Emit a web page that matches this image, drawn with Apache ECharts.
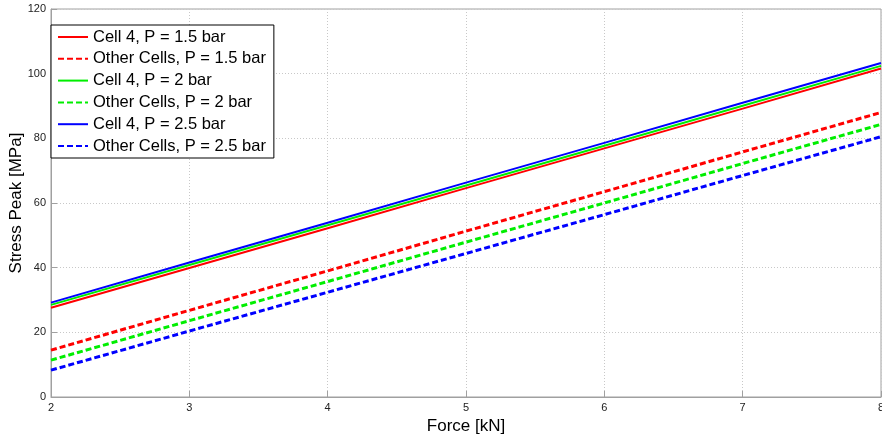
<!DOCTYPE html>
<html>
<head>
<meta charset="utf-8">
<script src="https://cdn.jsdelivr.net/npm/echarts@6/dist/echarts.min.js"></script>
<style>
  html, body { margin: 0; padding: 0; background: #fff; }
  #chart { width: 882px; height: 437px; }
</style>
</head>
<body>
<div id="chart"></div>
<script>
// Force values (kN)
const forceKN = [2, 3, 4, 5, 6, 7, 8];

// Peak stress (MPa) per configuration
const cell4P15 = [27.6, 39.9, 52.2, 64.6, 76.9, 89.2, 101.6];
const otherP15 = [14.5, 26.8, 39.0, 51.3, 63.5, 75.8, 88.0];
const cell4P2 = [28.5, 40.8, 53.1, 65.4, 77.7, 90.1, 102.4];
const otherP2 = [11.4, 23.6, 35.7, 47.9, 60.0, 72.2, 84.3];
const cell4P25 = [29.2, 41.6, 53.9, 66.3, 78.6, 91.0, 103.3];
const otherP25 = [8.3, 20.4, 32.4, 44.4, 56.4, 68.5, 80.5];

const seriesNames = [
  'Cell 4, P = 1.5 bar',
  'Other Cells, P = 1.5 bar',
  'Cell 4, P = 2 bar',
  'Other Cells, P = 2 bar',
  'Cell 4, P = 2.5 bar',
  'Other Cells, P = 2.5 bar'
];
const seriesValues = [cell4P15, otherP15, cell4P2, otherP2, cell4P25, otherP25];
const seriesColors = ['#ff0000', '#ff0000', '#00ee00', '#00ee00', '#0000ff', '#0000ff'];

const chart = echarts.init(document.getElementById('chart'), null, { renderer: 'canvas' });

const series = seriesNames.map((name, i) => {
  const dashed = i % 2 === 1;
  return {
    name: name,
    type: 'line',
    data: forceKN.map((f, k) => [f, seriesValues[i][k]]),
    symbol: 'none',
    showSymbol: false,
    animation: false,
    z: dashed ? 3 : 4,
    lineStyle: {
      color: seriesColors[i],
      width: dashed ? 3 : 2,
      type: dashed ? [6, 3] : 'solid'
    },
    itemStyle: { color: seriesColors[i] }
  };
});

const gridLine = { show: true, lineStyle: { color: '#c8c8c8', type: [1, 2], width: 1 } };
const fontFamily = 'Liberation Sans, Arial, sans-serif';

chart.setOption({
  backgroundColor: '#ffffff',
  animation: false,
  textStyle: { fontFamily: fontFamily },
  grid: {
    left: 51, right: 1, top: 9, bottom: 40,
    show: true, borderColor: '#a0a0a0', borderWidth: 1,
    containLabel: false,
    outerBoundsMode: 'none'
  },
  legend: {
    orient: 'vertical',
    left: 51, top: 25,
    padding: [3, 8, 3, 6],
    backgroundColor: '#ffffff',
    borderColor: '#000000',
    borderWidth: 1,
    borderRadius: 0,
    itemWidth: 30,
    itemHeight: 14,
    itemGap: 3.8,
    align: 'left',
    itemStyle: { opacity: 0 },
    textStyle: { fontSize: 16.5, lineHeight: 18, color: '#000', fontFamily: fontFamily },
    data: seriesNames
  },
  xAxis: {
    type: 'value',
    min: 2, max: 8, interval: 1,
    name: 'Force [kN]',
    nameLocation: 'middle',
    nameGap: 17,
    nameTextStyle: { fontSize: 17, color: '#000' },
    axisLine: { show: true, lineStyle: { color: '#a0a0a0' } },
    axisTick: { show: true, inside: true, length: 6, lineStyle: { color: '#a0a0a0' } },
    axisLabel: { fontSize: 11, color: '#222', margin: 5 },
    splitLine: gridLine
  },
  yAxis: {
    type: 'value',
    min: 0, max: 120, interval: 20,
    name: 'Stress Peak [MPa]',
    nameLocation: 'middle',
    nameGap: 26,
    nameMoveOverlap: false,
    nameRotate: 90,
    nameTextStyle: { fontSize: 17, color: '#000' },
    axisLine: { show: true, lineStyle: { color: '#a0a0a0' } },
    axisTick: { show: true, inside: true, length: 6, lineStyle: { color: '#a0a0a0' } },
    axisLabel: { fontSize: 11, color: '#222', margin: 5 },
    splitLine: gridLine
  },
  series: series
});
</script>
</body>
</html>
